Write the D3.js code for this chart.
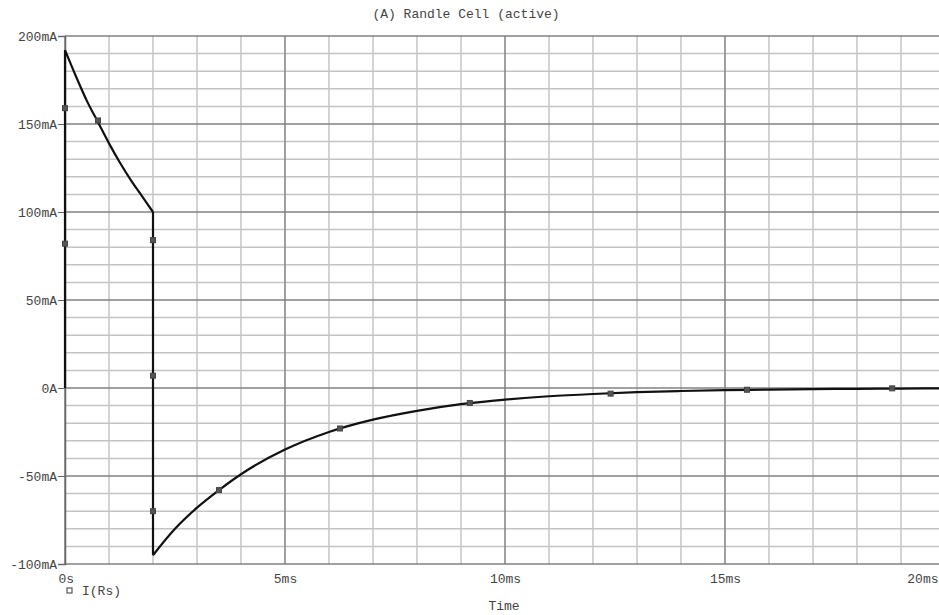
<!DOCTYPE html>
<html>
<head>
<meta charset="utf-8">
<script src="https://cdn.jsdelivr.net/npm/d3@7"></script>
<style>
  body { margin: 0; background: #fff; }
  svg { display: block; }
  text { font-family: "Liberation Mono", "DejaVu Sans Mono", monospace; fill: #444; }
</style>
</head>
<body>
<div id="chart"></div>
<script>
// Trace I(Rs): time in ms, current in mA
// first part: charging decay after the step at t = 0
const timeA = [0, 0.25, 0.5, 0.75, 1.0, 1.25, 1.5, 1.75, 2.0];
const currentA = [192, 177, 163, 151, 139, 128, 118, 109, 100];
// second part: recovery after the step at t = 2 ms
const timeB = [2.0, 2.5, 3.0, 3.5, 4.0, 5.0, 6.0, 7.0, 8.0, 9.0, 10.0, 11.0, 12.0,
               13.0, 14.0, 15.0, 16.0, 17.0, 18.0, 19.0, 20.0, 21.0];
const currentB = [-95, -80, -68, -58, -49, -35, -25, -18, -13, -9.2, -6.6, -4.7, -3.4,
                  -2.4, -1.7, -1.2, -0.9, -0.6, -0.5, -0.3, -0.2, -0.1];
// level before the first step
const startT = 0, startI = 0;

// marker symbols placed along the trace
const markerT = [0, 0, 0.75, 2.0, 2.0, 2.0, 3.5, 6.25, 9.2, 12.4, 15.5, 18.8];
const markerI = [159, 82, 152, 84, 7, -70, -58, -23, -8.5, -3.2, -1, -0.2];

const xTicks = [0, 5, 10, 15, 20];
const xTickLabels = ["0s", "5ms", "10ms", "15ms", "20ms"];
const yTicks = [-100, -50, 0, 50, 100, 150, 200];
const yTickLabels = ["-100mA", "-50mA", "0A", "50mA", "100mA", "150mA", "200mA"];

const w = 939, h = 615;
const marginTop = 36, marginBottom = 51, marginLeft = 65;

const svg = d3.select("#chart").append("svg")
    .attr("width", w).attr("height", h);

const x = d3.scaleLinear().domain([0, 20]).range([marginLeft, marginLeft + 880]);
const y = d3.scaleLinear().domain([-100, 200]).range([h - marginBottom, marginTop]);

const plotRight = w;

// minor grid
const grid = svg.append("g");
grid.selectAll(".vminor")
  .data(d3.range(0, 21, 1).filter(t => t % 5 !== 0))
  .join("line")
  .attr("x1", d => x(d)).attr("x2", d => x(d))
  .attr("y1", y(200)).attr("y2", y(-100))
  .attr("stroke", "#c4c4c4").attr("stroke-width", 1.5);
grid.selectAll(".hminor")
  .data(d3.range(-100, 201, 10).filter(v => v % 50 !== 0))
  .join("line")
  .attr("x1", marginLeft).attr("x2", plotRight)
  .attr("y1", d => y(d)).attr("y2", d => y(d))
  .attr("stroke", "#c4c4c4").attr("stroke-width", 1.5);

// major grid
grid.selectAll(".vmajor")
  .data(xTicks)
  .join("line")
  .attr("x1", d => x(d)).attr("x2", d => x(d))
  .attr("y1", y(200)).attr("y2", y(-100))
  .attr("stroke", "#808080").attr("stroke-width", 1.5);
grid.selectAll(".hmajor")
  .data(yTicks)
  .join("line")
  .attr("x1", marginLeft).attr("x2", plotRight)
  .attr("y1", d => y(d)).attr("y2", d => y(d))
  .attr("stroke", "#808080").attr("stroke-width", 1.5);

// y axis
svg.append("g")
  .attr("transform", `translate(${marginLeft},0)`)
  .call(d3.axisLeft(y).tickValues(yTicks).tickSize(7).tickPadding(1)
    .tickFormat((d, i) => yTickLabels[i]))
  .call(g => g.select(".domain").attr("stroke", "#666").attr("stroke-width", 1.5))
  .call(g => g.selectAll(".tick line").attr("stroke", "#666"))
  .call(g => g.selectAll(".tick text")
    .style("font-family", "Liberation Mono, monospace")
    .style("font-size", "13px").attr("fill", "#444"));

// x axis
svg.append("g")
  .attr("transform", `translate(0,${y(-100)})`)
  .call(d3.axisBottom(x).tickValues(xTicks).tickSize(0).tickPadding(10)
    .tickFormat((d, i) => xTickLabels[i]))
  .call(g => g.select(".domain").remove())
  .call(g => g.selectAll(".tick text")
    .style("font-family", "Liberation Mono, monospace")
    .style("font-size", "13px").attr("fill", "#444"))
  .call(g => g.select(".tick:first-of-type text").attr("text-anchor", "start").attr("dx", -7))
  // last tick sits past the window edge; pull its label in so it stays readable
  .call(g => g.select(".tick:last-of-type text").attr("text-anchor", "end").attr("dx", w - x(20) - 1));

// trace: smooth pieces joined by the two vertical steps
const smooth = d3.line().x(d => x(d[0])).y(d => y(d[1])).curve(d3.curveMonotoneX);
const partA = timeA.map((t, i) => [t, currentA[i]]);
const partB = timeB.map((t, i) => [t, currentB[i]]);
const stepA = `M${x(startT)},${y(startI)}L${x(timeA[0])},${y(currentA[0])}`;
const stepB = `M${x(timeA[timeA.length - 1])},${y(currentA[currentA.length - 1])}L${x(timeB[0])},${y(currentB[0])}`;

svg.append("path")
  .attr("fill", "none")
  .attr("stroke", "#111")
  .attr("stroke-width", 2.2)
  .attr("stroke-linejoin", "round")
  .attr("d", stepA + smooth(partA) + stepB + smooth(partB));

// markers
svg.append("g").selectAll("rect")
  .data(markerT.map((t, i) => [t, markerI[i]]))
  .join("rect")
  .attr("x", d => x(d[0]) - 2.5).attr("y", d => y(d[1]) - 2.5)
  .attr("width", 5).attr("height", 5)
  .attr("fill", "#555").attr("stroke", "#444");

// title
svg.append("text")
  .attr("x", 466).attr("y", 18)
  .attr("text-anchor", "middle")
  .style("font-size", "13px")
  .text("(A) Randle Cell (active)");

// x label
svg.append("text")
  .attr("x", 504).attr("y", 610)
  .attr("text-anchor", "middle")
  .style("font-size", "13px")
  .text("Time");

// legend
svg.append("rect")
  .attr("x", 67).attr("y", 588).attr("width", 5).attr("height", 5)
  .attr("fill", "none").attr("stroke", "#555").attr("stroke-width", 1.2);
svg.append("text")
  .attr("x", 82).attr("y", 595)
  .style("font-size", "13px")
  .text("I(Rs)");
</script>
</body>
</html>
